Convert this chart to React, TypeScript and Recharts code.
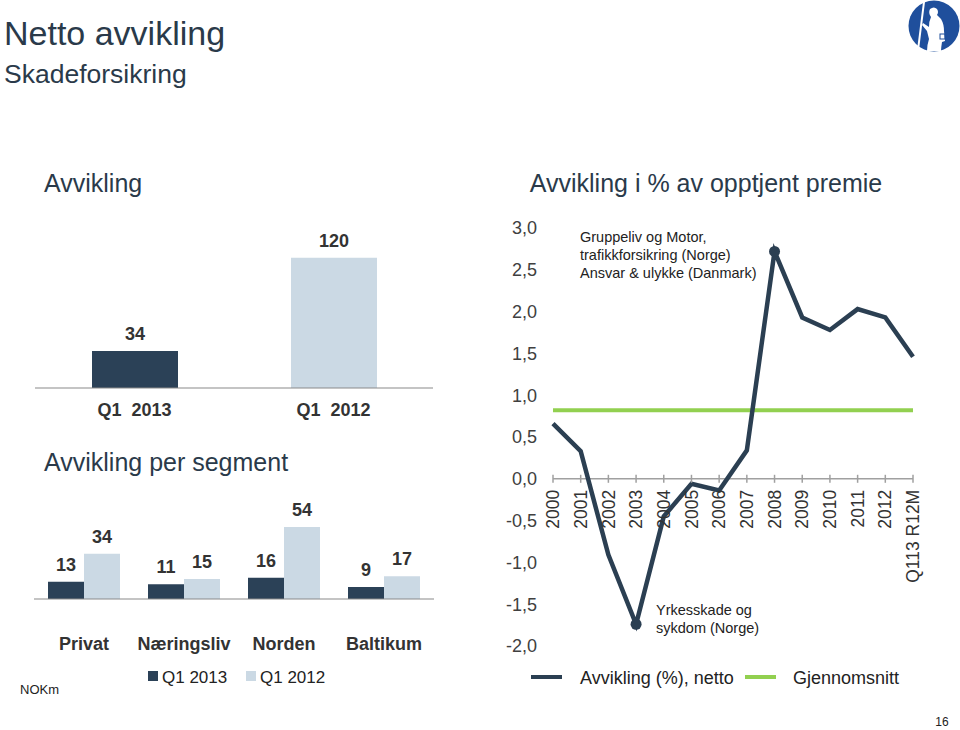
import React from 'react';
import {
  BarChart, Bar, XAxis, YAxis, LabelList, LineChart, Line, ReferenceLine, ReferenceDot, Cell,
} from 'recharts';

// ---------- data ----------
const totalCategories = ['Q1\u00a0 2013', 'Q1\u00a0 2012'];
const totalValues = [34, 120];

const segments = ['Privat', 'Næringsliv', 'Norden', 'Baltikum'];
const segQ12013 = [13, 11, 16, 9];
const segQ12012 = [34, 15, 54, 17];

const years = ['2000', '2001', '2002', '2003', '2004', '2005', '2006', '2007', '2008', '2009', '2010', '2011', '2012', 'Q113 R12M'];
const nettoPct = [0.66, 0.33, -0.91, -1.74, -0.45, -0.06, -0.14, 0.34, 2.72, 1.93, 1.78, 2.03, 1.93, 1.46];
const averagePct = [0.82, 0.82, 0.82, 0.82, 0.82, 0.82, 0.82, 0.82, 0.82, 0.82, 0.82, 0.82, 0.82, 0.82];
const yTicks = [3, 2.5, 2, 1.5, 1, 0.5, 0, -0.5, -1, -1.5, -2];
const markedPoints = [3, 8];

const DARK = '#2b4157';
const LIGHT = '#cbd9e4';
const LINE = '#2b3f52';
const GREEN = '#92d050';
const TEXT = '#2a3a4a';
const FONT = '"Liberation Sans", Arial, Helvetica, sans-serif';

const totalData = totalCategories.map((c, i) => ({ cat: c, value: totalValues[i] }));
const segData = segments.map((s, i) => ({ seg: s, q13: segQ12013[i], q12: segQ12012[i] }));
const lineData = years.map((y, i) => ({ year: y, netto: nettoPct[i], avg: averagePct[i] }));

const fmt = (v: number) => v.toFixed(1).replace('.', ',');

const renderDot = (props: any) => {
  const { cx, cy, index } = props;
  if (markedPoints.includes(index)) {
    return <circle key={`d${index}`} cx={cx} cy={cy} r={5.5} fill={LINE} stroke="none" />;
  }
  return <g key={`d${index}`} />;
};

const axisTick = (label: string) => (p: any) => {
  const { cx, cy } = p;
  return (
    <g>
      <line x1={cx} x2={cx} y1={cy - 4} y2={cy + 4} stroke="#a0a0a0" strokeWidth={1.5} />
      <text
        x={cx}
        y={cy + 11}
        dy="0.35em"
        textAnchor="end"
        transform={`rotate(-90, ${cx}, ${cy + 11})`}
        fontSize={17.5}
        fill="#333"
        fontFamily={FONT}
      >
        {label}
      </text>
    </g>
  );
};

export default function App() {
  return (
    <div style={{ position: 'absolute', left: 0, top: 0, width: 960, height: 730, background: '#fff', fontFamily: FONT, overflow: 'hidden' }}>
      {/* static texts */}
      <svg width={960} height={730} style={{ position: 'absolute', left: 0, top: 0 }}>
        <text x={4} y={45} fontSize={34} fill={TEXT} fontFamily={FONT}>Netto avvikling</text>
        <text x={4} y={82.5} fontSize={26.5} fill={TEXT} fontFamily={FONT}>Skadeforsikring</text>
        <text x={44} y={191.5} fontSize={25} fill={TEXT} fontFamily={FONT}>Avvikling</text>
        <text x={44} y={471} fontSize={25} fill={TEXT} fontFamily={FONT}>Avvikling per segment</text>
        <text x={706} y={191.5} fontSize={25} fill={TEXT} fontFamily={FONT} textAnchor="middle">Avvikling i % av opptjent premie</text>

        <text x={580} y={242} fontSize={14.5} fill="#222" fontFamily={FONT}>Gruppeliv og Motor,</text>
        <text x={580} y={260} fontSize={14.5} fill="#222" fontFamily={FONT}>trafikkforsikring (Norge)</text>
        <text x={580} y={277.5} fontSize={14.5} fill="#222" fontFamily={FONT}>Ansvar &amp; ulykke (Danmark)</text>
        <text x={656} y={615} fontSize={14.5} fill="#222" fontFamily={FONT}>Yrkesskade og</text>
        <text x={656} y={633} fontSize={14.5} fill="#222" fontFamily={FONT}>sykdom (Norge)</text>

        {/* segment legend */}
        <rect x={148} y={671} width={10} height={10} fill={DARK} />
        <text x={162} y={682.5} fontSize={17} fill="#222" fontFamily={FONT}>Q1 2013</text>
        <rect x={246} y={671} width={10} height={10} fill={LIGHT} />
        <text x={260} y={682.5} fontSize={17} fill="#222" fontFamily={FONT}>Q1 2012</text>
        <text x={20} y={693.5} fontSize={13} fill="#222" fontFamily={FONT}>NOKm</text>

        {/* line legend */}
        <line x1={531} x2={562} y1={677} y2={677} stroke={LINE} strokeWidth={4} />
        <text x={580} y={683.5} fontSize={18} fill="#222" fontFamily={FONT}>Avvikling (%), netto</text>
        <line x1={745} x2={776} y1={677} y2={677} stroke={GREEN} strokeWidth={4} />
        <text x={793} y={683.5} fontSize={18} fill="#222" fontFamily={FONT}>Gjennomsnitt</text>

        <text x={942} y={726} fontSize={12} fill="#222" fontFamily={FONT} textAnchor="middle">16</text>

        {/* logo */}
        <circle cx={934} cy={26} r={25.5} fill="#1f4f9c" />
        <line x1={924} y1={2} x2={918} y2={50} stroke="#fff" strokeWidth={2} />
        <path
          d="M930 9 q4 -3 7 0 q2 3 0 6 l4 4 q3 5 3 12 l1 10 l-3 1 q-1 6 -1 9 l-14 0 q0 -6 2 -12 l-2 -8 l-5 -6 l1 -2 l6 4 q0 -6 2 -10 q-3 -4 -1 -8 z"
          fill="#fff"
        />
        <rect x={940} y={34} width={5} height={5} fill="none" stroke="#1f4f9c" strokeWidth={1} />
      </svg>

      {/* top-left total bar chart */}
      <div style={{ position: 'absolute', left: 35, top: 230 }}>
        <BarChart width={398} height={198} data={totalData} margin={{ top: 17, right: 0, bottom: 0, left: 0 }}>
          <XAxis
            dataKey="cat"
            axisLine={{ stroke: '#8a8a8a', strokeWidth: 1.2 }}
            tickLine={false}
            tickSize={6}
            tickMargin={9}
            height={40}
            interval={0}
            tick={{ fontSize: 18, fontWeight: 700, fill: '#333', fontFamily: FONT }}
          />
          <YAxis hide domain={[0, 130]} />
          <Bar dataKey="value" barSize={86} isAnimationActive={false}>
            {totalData.map((d, i) => (
              <Cell key={i} fill={i === 0 ? DARK : LIGHT} />
            ))}
            <LabelList dataKey="value" position="top" offset={11} style={{ fontSize: 18, fontWeight: 700, fill: '#333', fontFamily: FONT }} />
          </Bar>
        </BarChart>
      </div>

      {/* segment bar chart */}
      <div style={{ position: 'absolute', left: 34, top: 500 }}>
        <BarChart width={400} height={159} data={segData} margin={{ top: 19, right: 0, bottom: 0, left: 0 }} barGap={0}>
          <XAxis
            dataKey="seg"
            axisLine={{ stroke: '#8a8a8a', strokeWidth: 1.2 }}
            tickLine={false}
            tickSize={6}
            tickMargin={32}
            height={60}
            interval={0}
            tick={{ fontSize: 18, fontWeight: 700, fill: '#333', fontFamily: FONT }}
          />
          <YAxis hide domain={[0, 60]} />
          <Bar dataKey="q13" fill={DARK} barSize={36} isAnimationActive={false}>
            <LabelList dataKey="q13" position="top" offset={11} style={{ fontSize: 18, fontWeight: 700, fill: '#333', fontFamily: FONT }} />
          </Bar>
          <Bar dataKey="q12" fill={LIGHT} barSize={36} isAnimationActive={false}>
            <LabelList dataKey="q12" position="top" offset={11} style={{ fontSize: 18, fontWeight: 700, fill: '#333', fontFamily: FONT }} />
          </Bar>
        </BarChart>
      </div>

      {/* line chart */}
      <div style={{ position: 'absolute', left: 480, top: 200 }}>
        <LineChart width={470} height={470} data={lineData} margin={{ top: 28, right: 37, bottom: 24, left: 0 }}>
          <XAxis dataKey="year" hide height={0} />
          <YAxis
            domain={[-2, 3]}
            ticks={yTicks}
            interval={0}
            width={73}
            axisLine={false}
            tickLine={false}
            tickSize={6}
            tickMargin={10}
            tickFormatter={fmt}
            tick={{ fontSize: 18, fill: '#404040', fontFamily: FONT }}
          />
          <ReferenceLine y={0} stroke="#a0a0a0" strokeWidth={1.5} />
          {years.map((y) => (
            <ReferenceDot key={y} x={y} y={0} r={0} shape={axisTick(y)} />
          ))}
          <Line dataKey="avg" stroke={GREEN} strokeWidth={4} dot={false} activeDot={false} isAnimationActive={false} />
          <Line dataKey="netto" stroke={LINE} strokeWidth={4.5} dot={renderDot} activeDot={false} isAnimationActive={false} />
        </LineChart>
      </div>
    </div>
  );
}
